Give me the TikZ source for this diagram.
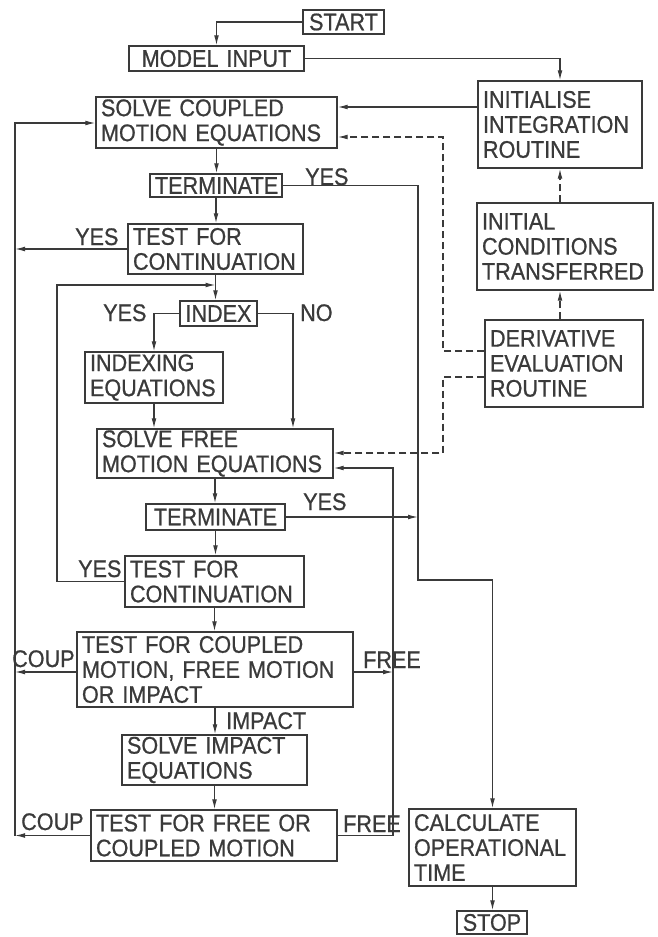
\documentclass[tikz,border=0pt]{standalone}
\usepackage{fontspec}
\setmainfont{Liberation Sans}[WordSpace=2.8, FakeStretch=0.9, FakeBold=0.8]
\usetikzlibrary{arrows.meta}
\definecolor{ink}{RGB}{58,58,58}
\begin{document}
\begin{tikzpicture}[x=1pt,y=-1pt,
  every node/.style={font=\fontsize{24}{25}\selectfont, text=ink},
  box/.style={draw=ink, line width=1.3pt, inner xsep=5pt, inner ysep=0pt, align=left},
  cbox/.style={box, align=center},
  lbl/.style={inner sep=0pt, anchor=base west},
  line/.style={draw=ink, line width=1.2pt},
  arr/.style={line, -{Latex[length=10pt,width=4.8pt]}},
  darr/.style={line, dash pattern=on 7pt off 4pt, -{Latex[length=10pt,width=4.8pt]}},
]
\useasboundingbox (0,0) rectangle (658,937);

% boxes
\node[cbox, text width=71pt, minimum height=24pt] (start) at (343.5,22) {START};
\node[cbox, text width=165pt, minimum height=25pt] (model) at (216.5,58.5) {MODEL~INPUT};
\node[box, text width=231pt, minimum height=51pt] (sc) at (216.5,122.5) {SOLVE~COUPLED\\MOTION~EQUATIONS};
\node[box, text width=154pt, minimum height=87pt] (init) at (560,124.5) {INITIALISE\\INTEGRATION\\ROUTINE};
\node[box, text width=166pt, minimum height=87pt] (ict) at (565,246.5) {INITIAL\\CONDITIONS\\TRANSFERRED};
\node[box, text width=148pt, minimum height=87pt] (der) at (564,363.5) {DERIVATIVE\\EVALUATION\\ROUTINE};
\node[cbox, text width=122pt, minimum height=23pt] (term1) at (216,185.5) {TERMINATE};
\node[box, text width=165pt, minimum height=50pt] (tc1) at (215.5,249) {TEST~FOR\\CONTINUATION};
\node[cbox, text width=67pt, minimum height=25pt] (index) at (218.5,313.5) {INDEX};
\node[box, text width=128pt, minimum height=51pt] (idxeq) at (154,377.5) {INDEXING\\EQUATIONS};
\node[box, text width=226pt, minimum height=49pt] (sf) at (215,453.5) {SOLVE~FREE\\MOTION~EQUATIONS};
\node[cbox, text width=129pt, minimum height=26pt] (term2) at (215.5,517) {TERMINATE};
\node[box, text width=169pt, minimum height=51pt] (tc2) at (214.5,581.5) {TEST~FOR\\CONTINUATION};
\node[box, text width=266pt, minimum height=75pt] (tcm) at (215,669.5) {TEST~FOR~COUPLED\\MOTION,~FREE~MOTION\\OR~IMPACT};
\node[box, text width=175pt, minimum height=50pt] (si) at (214.5,760) {SOLVE~IMPACT\\EQUATIONS};
\node[box, text width=236pt, minimum height=51pt] (tfc) at (214,835.5) {TEST~FOR~FREE~OR\\COUPLED~MOTION};
\node[box, text width=157pt, minimum height=77pt] (calc) at (492.5,847.5) {CALCULATE\\OPERATIONAL\\TIME};
\node[cbox, text width=60pt, minimum height=23pt] (stop) at (492,922.5) {STOP};

% helper coordinates
\coordinate (L) at (15,123);
\coordinate (Lb) at (15,835.5);
\coordinate (M) at (57,285);
\coordinate (R1b) at (418,580);
\coordinate (F) at (393,468);
\coordinate (D) at (443,137);
\coordinate (D2) at (443,453);
\coordinate (da) at (443,351);
\coordinate (db) at (443,377);
\coordinate (s1) at (0,107);
\coordinate (N) at (293,0);
\coordinate (cy) at (0,672);

% connectors
\draw[arr] (start.west) -| (model.north);
\draw[arr] (model.east) -| (init.north);
\draw[arr] (init.west |- s1) -- (sc.east |- s1);
\draw[darr] (ict.north -| init.south) -- (init.south);
\draw[darr] (der.north -| init.south) -- (ict.south -| init.south);
\draw[darr] (der.west |- da) -- (da) -- (D) -- (sc.east |- D);
\draw[darr] (der.west |- db) -- (db) -- (D2) -- (sf.east |- D2);
\draw[arr] (sc.south) -- (sc.south |- term1.north);
\draw[arr] (term1.south) -- (term1.south |- tc1.north);
\draw[arr] (term1.east) -| (R1b) -| (calc.north);
\draw[arr] (tc1.west) -- (tc1.west -| L);
\draw[arr] (Lb) -- (L) -- (sc.west |- L);
\draw[arr] (tc1.south) -- (tc1.south |- index.north);
\draw[arr] (index.west) -| (idxeq.north);
\draw[arr] (index.east) -| (N |- sf.north);
\draw[arr] (idxeq.south) -- (idxeq.south |- sf.north);
\draw[arr] (sf.south) -- (sf.south |- term2.north);
\draw[arr] (term2.east) -- (term2.east -| R1b);
\draw[arr] (term2.south) -- (term2.south |- tc2.north);
\draw[arr] (tc2.west) -| (M) -- (M -| tc1.south);
\draw[arr] (tc2.south) -- (tc2.south |- tcm.north);
\draw[arr] (tcm.west |- cy) -- (L |- cy);
\draw[arr] (tcm.east |- cy) -- (F |- cy);
\draw[arr] (tcm.south) -- (tcm.south |- si.north);
\draw[arr] (si.south) -- (si.south |- tfc.north);
\draw[arr] (tfc.west) -- (Lb);
\draw[arr] (tfc.east) -| (F) -- (sf.east |- F);
\draw[arr] (calc.south) -- (calc.south |- stop.north);

% labels
\node[lbl] (y1) at (305,185) {YES};
\node[lbl] (y2) at (75,245) {YES};
\node[lbl] (y3) at (103,321) {YES};
\node[lbl] (no) at (300,321) {NO};
\node[lbl] (y4) at (303,510) {YES};
\node[lbl] (y5) at (78,577) {YES};
\node[lbl] (c1) at (12,667) {COUP};
\node[lbl] (f1) at (363,668) {FREE};
\node[lbl] (imp) at (226,729) {IMPACT};
\node[lbl] (c2) at (21,830) {COUP};
\node[lbl] (f2) at (343,832) {FREE};
\end{tikzpicture}
\end{document}
